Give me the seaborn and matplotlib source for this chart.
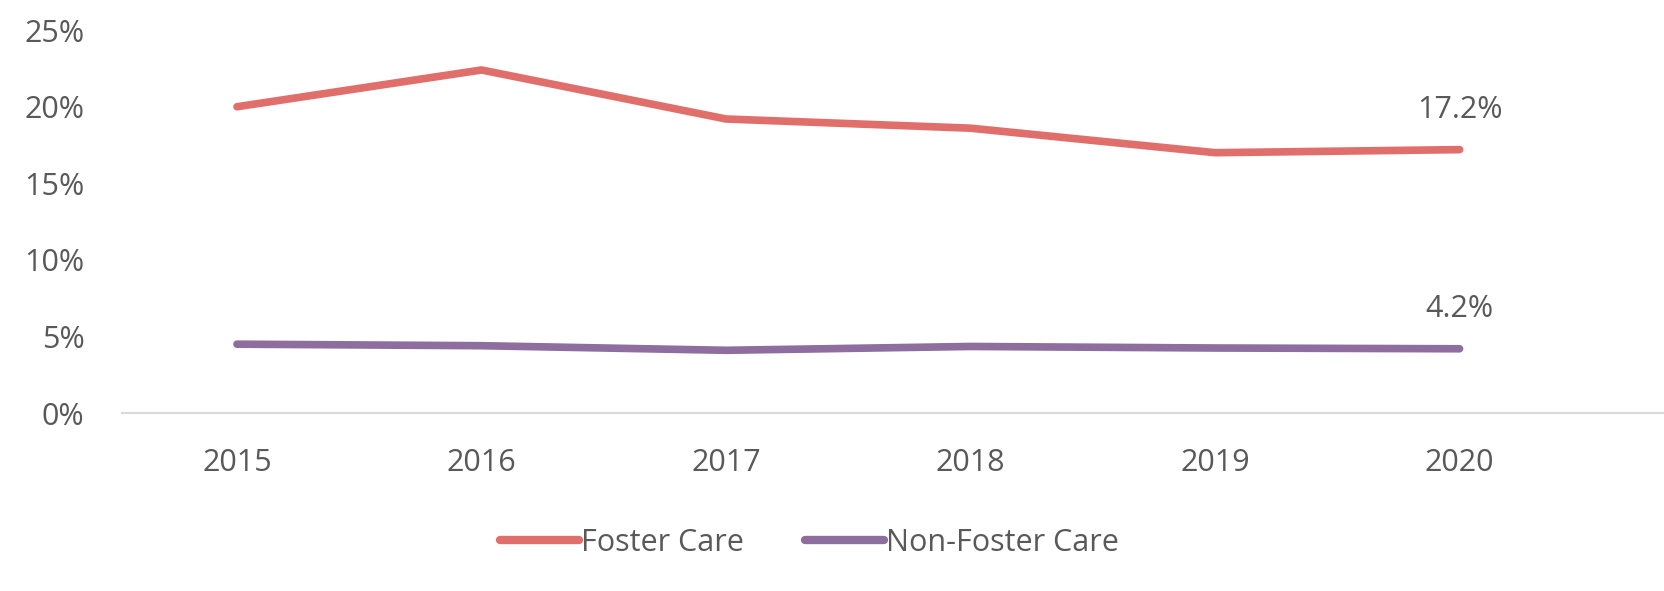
import pandas as pd
import matplotlib
matplotlib.use("Agg")
import matplotlib.pyplot as plt
import seaborn as sns
from matplotlib.ticker import PercentFormatter

# Data
years = ["2015", "2016", "2017", "2018", "2019", "2020"]
foster_care = [20.0, 22.4, 19.2, 18.6, 17.0, 17.2]
non_foster_care = [4.5, 4.4, 4.1, 4.35, 4.25, 4.2]
series_names = ["Foster Care", "Non-Foster Care"]
end_labels = ["17.2%", "4.2%"]

df = pd.DataFrame({
    "year": years * 2,
    "value": foster_care + non_foster_care,
    "series": [series_names[0]] * len(years) + [series_names[1]] * len(years),
})

sns.set_theme(style="white")
plt.rcParams["font.family"] = ["Open Sans", "DejaVu Sans"]
text_color = "#595959"
palette = {"Foster Care": "#E06F6B", "Non-Foster Care": "#8D6E9E"}

fig = plt.figure(figsize=(16.65, 5.91), dpi=100)
ax = fig.add_axes([0.0733, 0.301, 0.9267, 0.648])

sns.lineplot(data=df, x="year", y="value", hue="series", palette=palette,
             linewidth=5.5, ax=ax, sort=False, legend=True)
for line in ax.get_lines():
    line.set_solid_capstyle("round")

# End-point labels
for name, vals, lab in zip(series_names, [foster_care, non_foster_care], end_labels):
    ax.annotate(lab, xy=(len(years) - 1, vals[-1]), xytext=(0, 18),
                textcoords="offset points", ha="center", va="bottom",
                fontsize=22, color=text_color)

ax.set_ylim(0, 25)
ax.set_xlim(-0.47, 5.84)
ax.set_yticks([0, 5, 10, 15, 20, 25])
ax.yaxis.set_major_formatter(PercentFormatter(decimals=0))
ax.set_xlabel("")
ax.set_ylabel("")
ax.tick_params(axis="both", labelsize=22, colors=text_color, length=0)
ax.tick_params(axis="x", pad=25)
ax.tick_params(axis="y", pad=27)

for side in ["top", "right", "left"]:
    ax.spines[side].set_visible(False)
ax.spines["bottom"].set_color("#D9D9D9")
ax.spines["bottom"].set_linewidth(1.5)

handles, labels = ax.get_legend_handles_labels()
ax.get_legend().remove()
leg = fig.legend(handles, labels, loc="center", bbox_to_anchor=(0.486, 0.081),
                 ncol=2, frameon=False, fontsize=22, handlelength=2.6,
                 handletextpad=0.05, columnspacing=2)
for t in leg.get_texts():
    t.set_color(text_color)
for h in leg.get_lines():
    h.set_linewidth(6)
    h.set_solid_capstyle("round")

fig.savefig("out.png", dpi=100)
